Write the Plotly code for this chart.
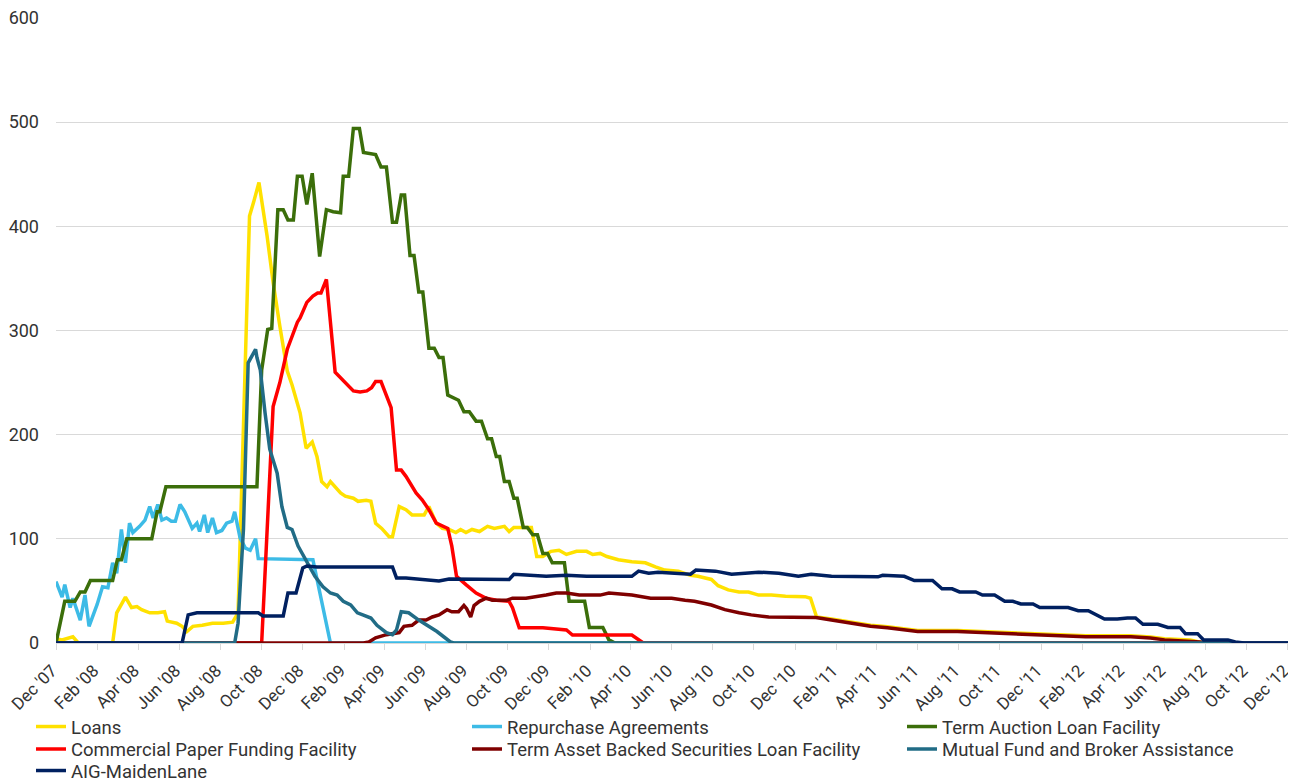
import plotly.graph_objects as go

# Federal Reserve lending facilities, billions of dollars

loans_dates = [
    "2007-12-01", "2007-12-10", "2007-12-26", "2008-01-03", "2008-02-23", "2008-02-29",
    "2008-03-13", "2008-03-22", "2008-03-30", "2008-04-06", "2008-04-18", "2008-04-30",
    "2008-05-10", "2008-05-14", "2008-05-28", "2008-06-05", "2008-06-12", "2008-06-21",
    "2008-07-05", "2008-07-20", "2008-08-05", "2008-08-19", "2008-08-27", "2008-09-13",
    "2008-09-19", "2008-09-27", "2008-10-09", "2008-10-18", "2008-10-28", "2008-11-08",
    "2008-11-15", "2008-11-27", "2008-12-06", "2008-12-15", "2008-12-22", "2008-12-29",
    "2009-01-06", "2009-01-11", "2009-01-26", "2009-02-02", "2009-02-14", "2009-02-21",
    "2009-03-05", "2009-03-12", "2009-03-19", "2009-03-28", "2009-04-08", "2009-04-13",
    "2009-04-23", "2009-05-03", "2009-05-12", "2009-05-30", "2009-06-06", "2009-06-17",
    "2009-06-26", "2009-07-06", "2009-07-16", "2009-07-23", "2009-07-31", "2009-08-09",
    "2009-08-20", "2009-09-01", "2009-09-11", "2009-09-26", "2009-10-03", "2009-10-10",
    "2009-11-05", "2009-11-13", "2009-11-22", "2009-12-04", "2009-12-16", "2009-12-27",
    "2010-01-11", "2010-01-26", "2010-02-04", "2010-02-15", "2010-02-25", "2010-03-03",
    "2010-03-14", "2010-04-03", "2010-04-23", "2010-05-08", "2010-05-22", "2010-06-11",
    "2010-06-29", "2010-07-10", "2010-07-30", "2010-08-09", "2010-08-24", "2010-09-09",
    "2010-09-23", "2010-10-08", "2010-10-27", "2010-11-17", "2010-12-16", "2010-12-24",
    "2011-01-02", "2011-01-24", "2011-02-23", "2011-03-23", "2011-04-17", "2011-05-12",
    "2011-06-01", "2011-07-30", "2011-09-28", "2011-12-06", "2012-02-05", "2012-04-12",
    "2012-05-11", "2012-06-01", "2012-07-09", "2012-07-29", "2012-12-13",
]
loans_vals = [
    4, 3, 6, 0, 0, 29,
    44, 34, 35, 32, 29, 29,
    30, 21, 19, 16, 11, 16,
    17, 19, 19, 20, 29, 410,
    423, 442, 391, 346, 304, 261,
    248, 221, 187, 193, 179, 155,
    150, 155, 144, 141, 139, 136,
    137, 136, 115, 110, 102, 102,
    131, 128, 123, 123, 131, 115,
    110, 109, 106, 109, 106, 109,
    107, 112, 110, 112, 107, 111,
    111, 83, 83, 88, 89, 85,
    88, 88, 85, 86, 83, 82,
    80, 78, 77, 73, 70, 69,
    65, 64, 61, 55, 51, 49,
    49, 46, 46, 45, 44.5, 43,
    25, 23, 20, 17, 15.5, 13.5,
    12, 12, 10.5, 8.7, 7, 7,
    5.8, 4, 3, 0, 0,
]

repo_dates = [
    "2007-12-01", "2007-12-10", "2007-12-14", "2007-12-22", "2007-12-26", "2008-01-06",
    "2008-01-13", "2008-01-19", "2008-01-31", "2008-02-08", "2008-02-16", "2008-02-23",
    "2008-02-29", "2008-03-07", "2008-03-13", "2008-03-19", "2008-03-24", "2008-04-03",
    "2008-04-11", "2008-04-18", "2008-04-23", "2008-04-30", "2008-05-06", "2008-05-13",
    "2008-05-20", "2008-05-26", "2008-06-02", "2008-06-09", "2008-06-20", "2008-06-27",
    "2008-07-01", "2008-07-08", "2008-07-13", "2008-07-20", "2008-07-26", "2008-08-03",
    "2008-08-10", "2008-08-18", "2008-08-22", "2008-08-30", "2008-09-07", "2008-09-14",
    "2008-09-22", "2008-09-26", "2008-12-16", "2009-01-11", "2012-12-13",
]
repo_vals = [
    59, 44, 56, 34, 43, 22,
    46, 16, 37, 54, 53, 77,
    67, 109, 77, 115, 106, 112,
    118, 131, 120, 133, 118, 120,
    117, 117, 133, 126, 110, 115,
    107, 123, 106, 120, 106, 108,
    115, 117, 126, 101, 91, 89,
    100, 81, 80, 0, 0,
]

taf_dates = [
    "2007-12-01", "2007-12-14", "2007-12-29", "2008-01-06", "2008-01-13", "2008-01-21",
    "2008-02-23", "2008-03-01", "2008-03-07", "2008-03-15", "2008-04-21", "2008-04-29",
    "2008-05-03", "2008-05-12", "2008-09-24", "2008-10-01", "2008-10-10", "2008-10-16",
    "2008-10-25", "2008-11-02", "2008-11-09", "2008-11-17", "2008-11-23", "2008-11-30",
    "2008-12-07", "2008-12-15", "2008-12-26", "2009-01-05", "2009-01-15", "2009-01-26",
    "2009-01-30", "2009-02-07", "2009-02-14", "2009-02-23", "2009-03-01", "2009-03-19",
    "2009-03-27", "2009-04-04", "2009-04-13", "2009-04-19", "2009-04-26", "2009-05-01",
    "2009-05-09", "2009-05-15", "2009-05-22", "2009-05-28", "2009-06-06", "2009-06-14",
    "2009-06-21", "2009-06-27", "2009-07-04", "2009-07-10", "2009-07-20", "2009-07-28",
    "2009-08-05", "2009-08-15", "2009-08-23", "2009-09-01", "2009-09-07", "2009-09-14",
    "2009-09-19", "2009-09-26", "2009-10-03", "2009-10-10", "2009-10-15", "2009-10-24",
    "2009-10-30", "2009-11-07", "2009-11-14", "2009-11-22", "2009-11-29", "2009-12-06",
    "2009-12-24", "2009-12-31", "2010-01-23", "2010-01-30", "2010-02-19", "2010-02-28",
    "2010-03-09", "2012-12-13",
]
taf_vals = [
    0, 40, 40, 49, 49, 60,
    60, 80, 80, 100, 100, 126,
    126, 150, 150, 262, 301, 302,
    416, 416, 406, 406, 448, 448,
    421, 451, 371, 416, 414, 413,
    448, 448, 494, 494, 471, 469,
    457, 457, 404, 404, 430, 430,
    372, 372, 337, 337, 283, 283,
    274, 274, 238, 236, 233, 222,
    222, 213, 213, 196, 196, 179,
    179, 155, 155, 139, 139, 111,
    111, 104, 104, 86, 86, 77,
    77, 40, 40, 15, 15, 3,
    0, 0,
]

cpff_dates = [
    "2007-12-01", "2008-10-01", "2008-10-18", "2008-10-28", "2008-11-08", "2008-11-23",
    "2008-11-27", "2008-12-07", "2008-12-16", "2008-12-23", "2008-12-28", "2009-01-05",
    "2009-01-18", "2009-01-28", "2009-02-05", "2009-02-14", "2009-02-24", "2009-03-06",
    "2009-03-13", "2009-03-19", "2009-03-27", "2009-04-01", "2009-04-11", "2009-04-19",
    "2009-04-26", "2009-05-03", "2009-05-18", "2009-05-27", "2009-06-06", "2009-06-17",
    "2009-06-26", "2009-07-04", "2009-07-10", "2009-07-17", "2009-07-31", "2009-08-15",
    "2009-08-30", "2009-09-14", "2009-10-03", "2009-10-08", "2009-10-18", "2009-11-22",
    "2009-12-27", "2010-01-05", "2010-04-03", "2010-04-20", "2012-12-13",
]
cpff_vals = [
    0, 0, 227, 250, 282, 308,
    312, 327, 333, 336, 336, 349,
    260, 253, 248, 242, 241, 242,
    245, 251, 251, 243, 226, 166,
    166, 160, 144, 137.5, 128, 115,
    112, 110, 93, 64, 56, 48,
    43, 41, 40, 34, 14.6, 14.6,
    12.5, 7.7, 7.7, 0, 0,
]

talf_dates = [
    "2007-12-01", "2009-03-01", "2009-03-09", "2009-03-19", "2009-04-04", "2009-04-23",
    "2009-04-30", "2009-05-12", "2009-05-22", "2009-06-02", "2009-06-11", "2009-06-21",
    "2009-07-03", "2009-07-10", "2009-07-20", "2009-07-28", "2009-08-01", "2009-08-07",
    "2009-08-12", "2009-08-20", "2009-08-30", "2009-09-08", "2009-09-29", "2009-10-08",
    "2009-10-28", "2009-11-17", "2009-11-27", "2009-12-12", "2009-12-27", "2010-01-15",
    "2010-02-15", "2010-02-28", "2010-03-14", "2010-04-03", "2010-05-01", "2010-06-01",
    "2010-06-21", "2010-07-05", "2010-07-30", "2010-08-19", "2010-09-09", "2010-09-27",
    "2010-10-23", "2010-12-06", "2011-01-01", "2011-01-24", "2011-02-23", "2011-03-23",
    "2011-04-17", "2011-05-12", "2011-06-01", "2011-07-30", "2011-09-28", "2011-12-06",
    "2012-02-05", "2012-04-12", "2012-05-11", "2012-06-01", "2012-07-09", "2012-07-24",
    "2012-08-04", "2012-12-13",
]
talf_vals = [
    0, 0, 1, 5, 8, 10,
    16, 17, 22, 22, 25, 27,
    32, 30, 30, 36, 33, 25,
    36, 40, 43, 41, 41, 43,
    43, 44.5, 46, 48, 48, 46,
    46, 48, 47, 46, 43, 43,
    41, 40, 36.5, 32, 29, 27,
    25, 25, 24.5, 22, 19, 16,
    14.6, 12.5, 11, 11, 9.6, 7.7,
    6, 6, 4.8, 3, 2, 1,
    0, 0,
]

mf_dates = [
    "2007-12-01", "2008-08-22", "2008-08-27", "2008-09-04", "2008-09-11", "2008-09-19",
    "2008-09-22", "2008-09-24", "2008-09-29", "2008-10-06", "2008-10-13", "2008-10-24",
    "2008-10-31", "2008-11-08", "2008-11-15", "2008-11-24", "2008-12-07", "2008-12-19",
    "2008-12-31", "2009-01-11", "2009-01-21", "2009-01-30", "2009-02-10", "2009-02-20",
    "2009-02-28", "2009-03-12", "2009-03-21", "2009-04-04", "2009-04-13", "2009-04-19",
    "2009-04-26", "2009-05-07", "2009-05-22", "2009-06-06", "2009-06-18", "2009-06-28",
    "2009-07-08", "2009-07-13", "2012-12-13",
]
mf_vals = [
    0, 0, 19, 109, 269, 279,
    282, 274, 262, 221, 186, 163,
    131, 111, 109, 93, 77, 64,
    54, 48, 46, 40, 36.5, 29,
    27, 24, 17, 10, 8, 12.5,
    30, 29, 22, 16, 11, 6,
    1, 0, 0,
]

aig_dates = [
    "2007-12-01", "2008-06-05", "2008-06-14", "2008-06-27", "2008-09-26", "2008-10-03",
    "2008-11-02", "2008-11-09", "2008-11-21", "2008-12-01", "2008-12-07", "2008-12-22",
    "2009-04-13", "2009-04-19", "2009-05-03", "2009-05-22", "2009-06-21", "2009-07-06",
    "2009-09-19", "2009-10-03", "2009-10-10", "2009-11-02", "2009-11-27", "2009-12-27",
    "2010-01-26", "2010-04-03", "2010-04-13", "2010-04-28", "2010-05-12", "2010-06-29",
    "2010-07-07", "2010-08-05", "2010-08-29", "2010-10-08", "2010-11-07", "2010-12-06",
    "2010-12-25", "2011-01-24", "2011-02-23", "2011-04-03", "2011-04-10", "2011-05-12",
    "2011-05-27", "2011-06-23", "2011-07-07", "2011-07-22", "2011-08-02", "2011-08-26",
    "2011-09-05", "2011-09-23", "2011-10-08", "2011-10-20", "2011-11-01", "2011-11-19",
    "2011-11-29", "2012-01-10", "2012-01-25", "2012-02-09", "2012-03-04", "2012-03-23",
    "2012-04-07", "2012-04-19", "2012-04-30", "2012-05-22", "2012-06-06", "2012-06-24",
    "2012-07-02", "2012-07-20", "2012-07-29", "2012-09-03", "2012-09-14", "2012-09-27",
    "2012-12-13",
]
aig_vals = [
    0, 0, 27, 29, 29, 26,
    26, 48, 48, 72, 74, 73,
    73, 62.5, 62.5, 61.5, 59.6, 61.5,
    60.6, 61, 66, 65, 64, 65,
    64, 64, 69, 67, 68, 66,
    70, 69, 66, 68, 67, 64,
    66, 64, 64, 63.5, 65, 64,
    60, 60, 52, 52, 49, 49,
    46, 46, 40, 40, 37.5, 37.5,
    34, 34, 31, 31, 23, 23,
    24, 24, 18, 18, 15, 15,
    9, 9, 3, 3, 1, 0,
    0,
]

# name, dates, values, colour, legend column, legend row
series = [
    ("Loans", loans_dates, loans_vals, "#FFE100", 0, 0),
    ("Repurchase Agreements", repo_dates, repo_vals, "#3DBBE6", 1, 0),
    ("Term Auction Loan Facility", taf_dates, taf_vals, "#3B6E0A", 2, 0),
    ("Commercial Paper Funding Facility", cpff_dates, cpff_vals, "#FF0000", 0, 1),
    ("Term Asset Backed Securities Loan Facility", talf_dates, talf_vals, "#7F0000", 1, 1),
    ("Mutual Fund and Broker Assistance", mf_dates, mf_vals, "#216C86", 2, 1),
    ("AIG-MaidenLane", aig_dates, aig_vals, "#002060", 0, 2),
]

FONT = "Roboto"
TEXT = "#333333"

# legend grid in figure pixels (the page body offsets everything by 8px)
FIG_W, FIG_H = 1288, 774
col_x = [23, 459, 894]
row_y = [719, 741.5, 763]

fig = go.Figure()
legends = {}
for i, (name, xs, ys, color, col, row) in enumerate(series):
    key = "legend" if i == 0 else f"legend{i + 1}"
    fig.add_trace(go.Scatter(
        x=xs, y=ys, name=name, mode="lines",
        line=dict(color=color, width=3.5),
        legend=key,
    ))
    legends[key] = dict(
        orientation="v",
        xref="container", yref="container",
        x=col_x[col] / FIG_W, y=1 - row_y[row] / FIG_H,
        xanchor="left", yanchor="middle",
        font=dict(family=FONT, size=18.5, color=TEXT),
        bgcolor="rgba(0,0,0,0)",
    )

fig.update_layout(
    width=FIG_W,
    height=FIG_H,
    plot_bgcolor="white",
    paper_bgcolor="white",
    margin=dict(l=48, r=0, t=10, b=139, autoexpand=False),
    font=dict(family=FONT, size=18, color=TEXT),
    showlegend=True,
    **legends,
)
fig.update_xaxes(
    type="date",
    range=["2007-12-01", "2012-12-13"],
    tick0="2007-12-01", dtick="M2",
    tickformat="%b '%y",
    tickangle=-45,
    ticklabeloverflow="allow",
    ticklabelshift=-4,
    ticklabelstandoff=4,
    ticks="outside", ticklen=6, tickcolor="#d9d9d9",
    showgrid=False, showline=False, zeroline=False,
    automargin=False,
    tickfont=dict(family=FONT, size=17, color=TEXT),
)
fig.update_yaxes(
    range=[0, 600], dtick=100,
    showgrid=True, gridcolor="#d9d9d9", gridwidth=1,
    zeroline=True, zerolinecolor="#d9d9d9", zerolinewidth=1,
    showline=False, ticks="",
    ticklabelstandoff=16,
    ticklabeloverflow="allow",
    automargin=False,
    tickfont=dict(family=FONT, size=18, color=TEXT),
)

fig.write_html("out.html")
